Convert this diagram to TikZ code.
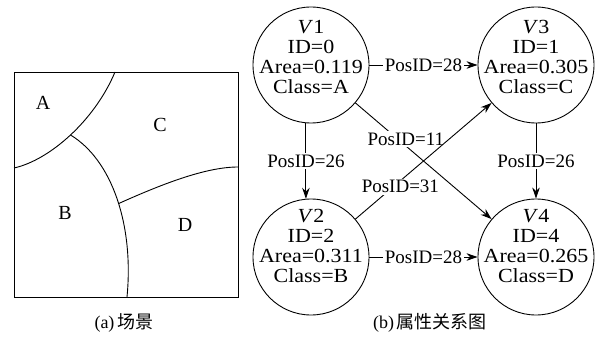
\documentclass[tikz,border=0pt]{standalone}
\usepackage{fontspec}
\setmainfont{Liberation Serif}
\newfontfamily\cjk{Noto Sans CJK SC}
\newfontfamily\widefont[FakeStretch=1.1]{Liberation Serif}
\usetikzlibrary{arrows.meta}

\begin{document}
\begin{tikzpicture}[x=1pt,y=-1pt,
  vertex/.style={draw,circle,line width=0.9pt,minimum size=116pt,inner sep=0pt},
  info/.style={align=center,inner sep=0pt,font=\widefont\fontsize{20}{20}\selectfont},
  rel/.style={fill=white,inner sep=1.5pt,font=\fontsize{19}{19}\selectfont},
  arrow/.style={-{Stealth[length=11pt,width=7.5pt]},line width=0.9pt},
  region/.style={font=\fontsize{20}{20}\selectfont},
  caption/.style={font=\fontsize{18}{18}\selectfont}
]
\useasboundingbox (0,0) rectangle (598,337);

% (a) scene
\draw[line width=0.9pt] (14,72) rectangle (238,297);
\draw[line width=0.9pt] (115,72) .. controls (95,120) and (50,160) .. coordinate[pos=0.5] (j1) (14,168);
\draw[line width=0.9pt] (j1) .. controls (112,160) and (134,225) .. coordinate[pos=0.53] (j2) (127,297);
\draw[line width=0.9pt] (j2) .. controls (160,185) and (205,167) .. (238,167);
\node[region] (ra) at (43,103) {A};
\node[region] (rc) at (160,125) {C};
\node[region] (rb) at (65,213) {B};
\node[region] (rd) at (185,225) {D};
\node[caption] (capa) at (124,323) {(a)\,{\cjk 场景}};

% (b) attribute graph
\node[vertex] (v1) at (311,65) {};
\node[vertex] (v3) at (536,65) {};
\node[vertex] (v2) at (311,257) {};
\node[vertex] (v4) at (536,257) {};
\node[info] (t1) at ([yshift=8pt]v1.center) {\textit{V}1\\ID=0\\Area=0.119\\Class=A};
\node[info] (t3) at ([yshift=8pt]v3.center) {\textit{V}3\\ID=1\\Area=0.305\\Class=C};
\node[info] (t2) at ([yshift=11pt]v2.center) {\textit{V}2\\ID=2\\Area=0.311\\Class=B};
\node[info] (t4) at ([yshift=11pt]v4.center) {\textit{V}4\\ID=4\\Area=0.265\\Class=D};

\draw[arrow] (v1.east) -- node[rel] (e13) {PosID=28} (v3.west);
\draw[arrow] (v2.east) -- node[rel] (e24) {PosID=28} (v4.west);
\draw[arrow] (v1.265) -- node[rel] (e12) {PosID=26} (v2.95);
\draw[arrow] (v3) -- node[rel] (e34) {PosID=26} (v4);
\draw[arrow] (v1) -- node[rel,pos=0.37,yshift=7pt] (e14) {PosID=11} (v4);
\draw[arrow] (v2) -- node[rel,pos=0.33,yshift=-6pt] (e23) {PosID=31} (v3);
\node[caption] (capb) at (430,323) {(b)\,{\cjk 属性关系图}};
\end{tikzpicture}
\end{document}
